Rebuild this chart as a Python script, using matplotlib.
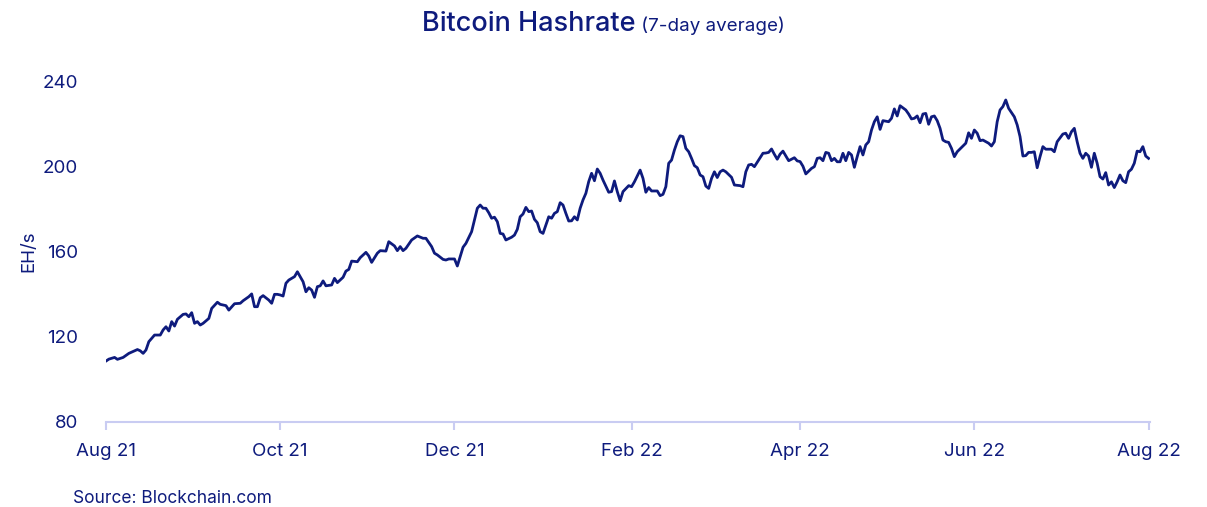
import numpy as np
import matplotlib
matplotlib.use("Agg")
import matplotlib.pyplot as plt

# ---- data (days since 2021-08-01, EH/s, 7-day average) ----
day_offsets = [0, 1, 3, 4, 6, 8, 10, 11, 12, 13, 14, 15, 17, 19, 20, 21, 22, 23, 24, 25,
               27, 28, 29, 30, 31, 32, 33, 34, 36, 37, 39, 40, 42, 43, 45, 47, 48, 50, 51, 52,
               53, 54, 55, 57, 58, 59, 60, 61, 62, 63, 64, 66, 67, 69, 70, 71, 72, 73, 74, 75,
               76, 77, 79, 80, 81, 83, 84, 85, 86, 88, 89, 91, 92, 93, 95, 96, 98, 99, 101, 102,
               103, 104, 105, 107, 109, 111, 112, 114, 115, 116, 118, 119, 120, 122, 123, 124, 125, 126, 128, 129,
               130, 131, 132, 133, 134, 135, 136, 137, 138, 139, 140, 142, 143, 144, 145, 146, 147, 148, 149, 150,
               151, 152, 153, 154, 155, 156, 157, 158, 159, 160, 161, 162, 163, 164, 165, 166, 167, 168, 169, 170,
               171, 172, 173, 174, 176, 177, 178, 179, 180, 181, 183, 184, 185, 187, 188, 189, 190, 191, 193, 194,
               195, 196, 197, 198, 199, 200, 201, 202, 203, 204, 205, 206, 207, 208, 209, 210, 211, 212, 213, 214,
               215, 216, 217, 219, 220, 222, 223, 224, 225, 226, 227, 229, 230, 231, 232, 233, 234, 235, 236, 237,
               238, 239, 241, 242, 243, 244, 245, 247, 248, 249, 250, 251, 252, 253, 254, 255, 256, 257, 258, 259,
               260, 261, 262, 263, 264, 265, 266, 267, 268, 269, 270, 271, 272, 274, 275, 276, 277, 278, 280, 281,
               282, 283, 284, 285, 286, 287, 288, 289, 290, 291, 292, 293, 294, 295, 296, 297, 298, 300, 301, 302,
               303, 304, 305, 306, 307, 309, 310, 311, 312, 313, 314, 315, 316, 318, 319, 320, 321, 322, 323, 324,
               325, 326, 327, 328, 329, 331, 332, 333, 335, 336, 337, 338, 339, 340, 341, 342, 343, 344, 345, 346,
               347, 348, 349, 350, 351, 352, 353, 354, 355, 356, 357, 358, 359, 360, 361, 362, 363, 364, 365]

hashrate = [108.6, 109.5, 110.3, 109.4, 110.3, 112.2, 113.4, 114.0, 113.4, 112.2, 113.8, 117.7, 120.8, 120.8, 123.2, 124.7, 122.7, 127.1, 125.0, 128.2,
            130.5, 130.7, 129.4, 131.3, 126.3, 127.1, 125.5, 126.3, 128.6, 133.3, 136.2, 135.2, 134.6, 132.5, 135.5, 135.7, 136.9, 138.8, 140.1, 134.1,
            134.1, 138.3, 139.3, 137.2, 135.7, 139.9, 139.9, 139.6, 139.1, 145.1, 146.6, 148.2, 150.5, 145.8, 141.1, 143.0, 141.9, 138.5, 143.5, 143.9,
            146.2, 143.9, 144.3, 147.4, 145.4, 147.9, 150.8, 151.6, 155.5, 155.2, 157.1, 159.6, 157.9, 154.9, 159.2, 160.4, 160.2, 164.6, 162.6, 160.4,
            162.3, 160.4, 161.5, 165.4, 167.3, 166.2, 166.2, 162.3, 159.2, 158.4, 156.3, 156.0, 156.5, 156.5, 153.2, 157.6, 162.0, 163.8, 169.3, 174.8,
            180.3, 181.8, 180.3, 180.3, 178.2, 175.6, 176.1, 174.0, 168.5, 168.2, 165.4, 166.7, 167.7, 170.4, 176.3, 177.6, 180.7, 178.7, 179.0, 175.1,
            173.5, 169.3, 168.5, 172.4, 176.3, 175.6, 177.9, 178.7, 182.9, 181.8, 177.9, 174.3, 174.4, 176.3, 174.8, 180.3, 184.2, 187.3, 192.8, 196.7,
            193.2, 198.7, 196.7, 193.5, 187.8, 188.1, 193.1, 188.1, 183.8, 188.1, 190.9, 190.4, 192.7, 198.2, 194.3, 187.8, 190.0, 188.4, 188.4, 186.2,
            186.8, 190.4, 201.4, 202.9, 207.6, 211.5, 214.3, 213.9, 208.4, 206.8, 203.7, 200.3, 199.3, 195.9, 195.1, 190.7, 189.6, 194.3, 197.4, 194.7,
            197.4, 198.2, 197.4, 194.8, 191.2, 190.9, 190.4, 197.4, 200.6, 200.9, 199.8, 204.0, 206.1, 206.2, 206.5, 208.1, 205.6, 203.3, 205.7, 207.1,
            204.9, 202.6, 204.0, 202.5, 202.2, 200.0, 196.4, 199.0, 199.8, 203.7, 204.0, 202.6, 206.5, 206.1, 202.6, 203.7, 202.1, 202.1, 206.1, 202.6,
            206.5, 205.3, 199.5, 204.5, 209.2, 205.3, 210.0, 211.5, 217.0, 220.9, 223.2, 217.3, 221.4, 220.9, 222.5, 226.9, 223.6, 228.4, 226.4, 224.5,
            222.2, 222.5, 223.6, 220.4, 224.5, 224.8, 219.7, 223.2, 223.6, 221.4, 217.8, 212.3, 211.5, 211.2, 208.4, 204.5, 206.8, 209.5, 210.8, 215.7,
            213.1, 217.0, 215.5, 212.0, 212.3, 210.8, 209.5, 211.5, 220.9, 226.4, 228.0, 231.1, 227.2, 223.2, 219.4, 213.9, 204.8, 205.0, 206.5, 206.5,
            206.8, 199.3, 204.5, 209.2, 208.0, 208.0, 206.8, 211.5, 215.1, 215.5, 213.1, 216.2, 217.8, 211.5, 206.1, 203.7, 206.1, 204.8, 199.5, 206.1,
            201.4, 195.1, 194.0, 197.0, 191.2, 192.7, 190.0, 192.7, 195.9, 193.2, 192.3, 197.4, 198.6, 201.4, 207.1, 206.8, 209.2, 204.8, 203.7]

start_date = "2021-08-01"
x_tick_dates = ["2021-08-01", "2021-10-01", "2021-12-01", "2022-02-01", "2022-04-01", "2022-06-01", "2022-08-01"]
x_tick_labels = ["Aug 21", "Oct 21", "Dec 21", "Feb 22", "Apr 22", "Jun 22", "Aug 22"]
y_ticks = [80, 120, 160, 200, 240]

NAVY = "#0e1b7d"
AXIS = "#c9ccf2"
plt.rcParams["font.family"] = ["Inter", "DejaVu Sans"]

dates = np.datetime64(start_date) + np.array(day_offsets).astype("timedelta64[D]")

fig = plt.figure(figsize=(12.07, 5.07), dpi=100)
ax = fig.add_axes([106 / 1207, (507 - 422) / 507, (1150 - 106) / 1207, (422 - 81) / 507])

ax.plot(dates, hashrate, color=NAVY, lw=2.0, solid_joinstyle="round")

ax.set_ylim(80, 240)
ax.set_xlim(np.datetime64(start_date), np.datetime64("2022-08-01") + np.timedelta64(12, "h"))
ax.set_yticks(y_ticks)
ax.set_xticks([np.datetime64(d) for d in x_tick_dates])
ax.set_xticklabels(x_tick_labels)

for s in ["top", "right", "left"]:
    ax.spines[s].set_visible(False)
ax.spines["bottom"].set_color(AXIS)
ax.spines["bottom"].set_linewidth(1.5)
ax.tick_params(axis="x", colors=AXIS, length=6, width=1.5, pad=9, labelcolor=NAVY, labelsize=13.5)
ax.tick_params(axis="y", length=0, pad=20, labelcolor=NAVY, labelsize=13.5)
ax.set_ylabel("EH/s", color=NAVY, fontsize=13.5, labelpad=4)

t1 = fig.text(0.0, 0.0, "Bitcoin Hashrate", color=NAVY, fontsize=19.5, fontweight="medium", va="baseline")
fig.canvas.draw()
r = fig.canvas.get_renderer()
bb1 = t1.get_window_extent(r)
t2 = fig.text(0, 0, " (7-day average)", color=NAVY, fontsize=13.5, va="baseline")
bb2 = t2.get_window_extent(r)
total = bb1.width + bb2.width
x0 = (1207 - total) / 2 / 1207
ybase = (507 - 31) / 507
t1.set_position((x0, ybase))
t2.set_position((x0 + bb1.width / 1207, ybase))

fig.text(73 / 1207, (507 - 503) / 507, "Source: Blockchain.com", color=NAVY, fontsize=12.5, va="baseline")

fig.savefig("out.png", dpi=100, facecolor="white")
